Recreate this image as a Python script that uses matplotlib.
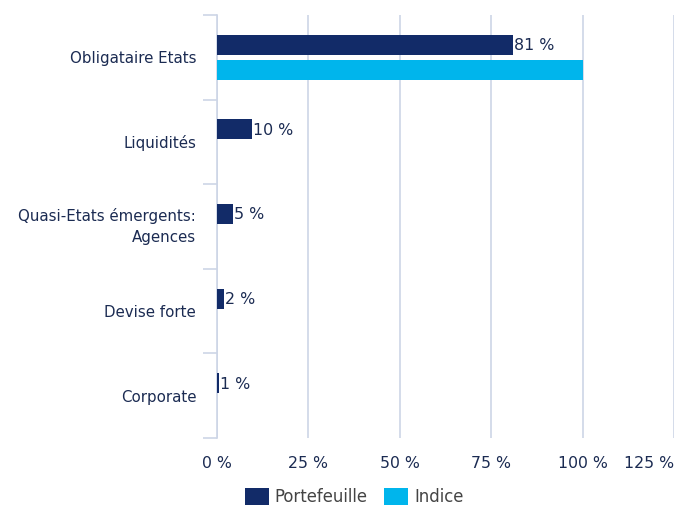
import matplotlib
matplotlib.use("Agg")
import matplotlib.pyplot as plt
import numpy as np

categories = ["Obligataire Etats", "Liquidités", "Quasi-Etats émergents:\nAgences", "Devise forte", "Corporate"]
portefeuille = [80.9, 9.6, 4.4, 1.9, 0.6]
indice = [100.0, 0.0, 0.0, 0.0, 0.0]
labels_pf = ["81 %", "10 %", "5 %", "2 %", "1 %"]
xticks = [0, 25, 50, 75, 100, 125]
xticklabels = ["0 %", "25 %", "50 %", "75 %", "100 %", "125 %"]

navy = "#122b68"
cyan = "#00b5ec"
txt = "#1b2b52"
grid = "#cdd5e6"

plt.rcParams['font.family'] = ['DejaVu Sans']
fig = plt.figure(figsize=(6.91, 5.07), dpi=100)
ax = fig.add_axes([217/691, 1-438/507, (674-217)/691, (438-15)/507])

y = np.arange(len(categories))
h = 0.236
off = 0.148
ax.barh(y - off, portefeuille, height=h, color=navy, label="Portefeuille", zorder=3)
ax.barh(y + off, indice, height=h, color=cyan, label="Indice", zorder=3)
for yi, v, s in zip(y, portefeuille, labels_pf):
    ax.text(v + 0.3, yi - off + 0.01, s, va="center", ha="left", fontsize=11.4, color=txt, zorder=4)

ax.set_xlim(0, 125)
ax.set_ylim(len(categories) - 0.5, -0.5)
ax.set_xticks(xticks)
ax.set_xticklabels(xticklabels)
ax.set_yticks(y)
ax.set_yticklabels(categories, fontsize=10.8, color=txt)
for lab in ax.get_yticklabels():
    lab.set_linespacing(1.45)
    if "\n" in lab.get_text():
        lab.set_verticalalignment("center")
ax.set_yticks(np.arange(len(categories) + 1) - 0.5, minor=True)
ax.tick_params(axis="y", which="major", length=0, pad=15)
ax.tick_params(axis="y", which="minor", length=10, color=grid, width=1.2)
ax.tick_params(axis="x", length=0, pad=13, labelsize=11.3, labelcolor=txt)
ax.get_xticklabels()[-1].set_horizontalalignment("right")

ax.grid(axis="x", color=grid, linewidth=1.2, zorder=0)
for s in ["top", "right", "bottom"]:
    ax.spines[s].set_visible(False)
ax.spines["left"].set_color(grid)
ax.spines["left"].set_linewidth(1.2)

leg = fig.legend(loc="center", bbox_to_anchor=(354/691, 1-497/507), ncol=2, frameon=False,
                 fontsize=11.9, handlelength=1.45, handleheight=1.15, columnspacing=1.0,
                 handletextpad=0.36)
for t in leg.get_texts():
    t.set_color("#444444")

fig.savefig("out.png", dpi=100)
